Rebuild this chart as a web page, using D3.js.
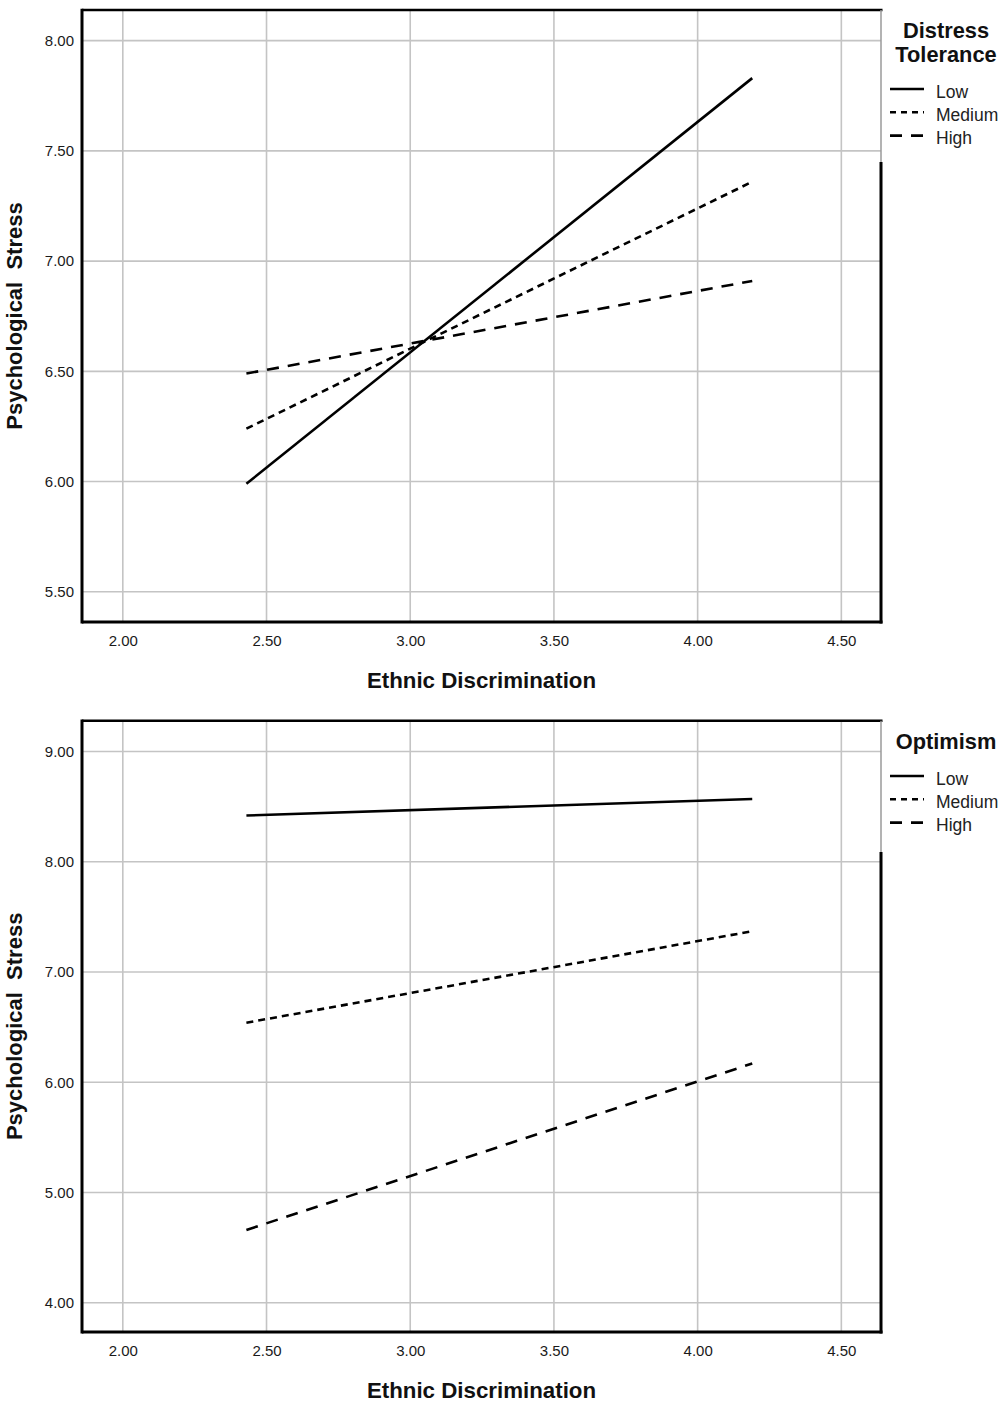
<!DOCTYPE html>
<html>
<head>
<meta charset="utf-8">
<script src="https://cdn.jsdelivr.net/npm/d3@7"></script>
<style>
  html, body { margin: 0; padding: 0; background: #fff; }
  svg { display: block; }
  text { font-family: "Liberation Sans", Arial, sans-serif; }
</style>
</head>
<body>
<svg id="chart" width="1004" height="1406"></svg>
<script>
// ---- Data ----
const xValues = [2.43, 4.19];
const xTicks = [2.0, 2.5, 3.0, 3.5, 4.0, 4.5];
const groups = ["Low", "Medium", "High"];

const dtLow = [5.99, 7.83];
const dtMedium = [6.24, 7.36];
const dtHigh = [6.49, 6.91];
const dtTicks = [5.5, 6.0, 6.5, 7.0, 7.5, 8.0];

const optLow = [8.42, 8.57];
const optMedium = [6.54, 7.37];
const optHigh = [4.66, 6.17];
const optTicks = [4, 5, 6, 7, 8, 9];

const xTitle = "Ethnic Discrimination";
const yTitle = "Psychological  Stress";

// ---- Styles ----
const dashes = { Low: null, Medium: "7,5", High: "12,9" };
const legendDashes = { Low: null, Medium: "6,5", High: "12,9" };

const svg = d3.select("#chart");

function panel(cfg) {
  const { top, bottom, yDomain, yTicks, series, legendTitle, legendTop, frameSplit } = cfg;
  const left = 82, right = 881;
  const x = d3.scaleLinear().domain([1.858, 4.638]).range([left, right]);
  const y = d3.scaleLinear().domain(yDomain).range([bottom, top]);
  const g = svg.append("g");

  // grid
  g.append("g").selectAll("line.h").data(yTicks).join("line")
    .attr("x1", left).attr("x2", right)
    .attr("y1", d => y(d)).attr("y2", d => y(d))
    .attr("stroke", "#c4c4c4").attr("stroke-width", 1.6);
  g.append("g").selectAll("line.v").data(xTicks).join("line")
    .attr("x1", d => x(d)).attr("x2", d => x(d))
    .attr("y1", top).attr("y2", bottom)
    .attr("stroke", "#c4c4c4").attr("stroke-width", 1.6);

  // axes labels
  const ya = g.append("g").attr("transform", `translate(${left},0)`)
    .call(d3.axisLeft(y).tickValues(yTicks).tickFormat(d3.format(".2f")).tickSize(0).tickPadding(8));
  ya.select(".domain").remove();
  ya.selectAll("text").attr("font-size", 15).attr("fill", "#1a1a1a")
    .attr("font-family", "Liberation Sans, Arial, sans-serif");

  const xa = g.append("g").attr("transform", `translate(0,${bottom})`)
    .call(d3.axisBottom(x).tickValues(xTicks).tickFormat(d3.format(".2f")).tickSize(0).tickPadding(13));
  xa.select(".domain").remove();
  xa.selectAll("text").attr("font-size", 15).attr("fill", "#1a1a1a")
    .attr("font-family", "Liberation Sans, Arial, sans-serif");

  // lines
  const line = d3.line().x((d, i) => x(xValues[i])).y(d => y(d));
  groups.forEach((grp, i) => {
    g.append("path").datum(series[i])
      .attr("d", line)
      .attr("fill", "none")
      .attr("stroke", "#000")
      .attr("stroke-width", 2.6)
      .attr("stroke-dasharray", dashes[grp]);
  });

  // frame
  g.append("line").attr("x1", left).attr("x2", right + 1.5).attr("y1", top).attr("y2", top)
    .attr("stroke", "#000").attr("stroke-width", 2.5);
  g.append("line").attr("x1", left).attr("x2", left).attr("y1", top - 1.2).attr("y2", bottom + 1.5)
    .attr("stroke", "#000").attr("stroke-width", 3);
  g.append("line").attr("x1", left).attr("x2", right + 1.5).attr("y1", bottom).attr("y2", bottom)
    .attr("stroke", "#000").attr("stroke-width", 3);
  g.append("line").attr("x1", right).attr("x2", right).attr("y1", top).attr("y2", frameSplit)
    .attr("stroke", "#9a9a9a").attr("stroke-width", 1.5);
  g.append("line").attr("x1", right).attr("x2", right).attr("y1", frameSplit).attr("y2", bottom + 1.5)
    .attr("stroke", "#000").attr("stroke-width", 3);

  // axis titles
  g.append("text").attr("x", (left + right) / 2).attr("y", bottom + 66)
    .attr("text-anchor", "middle").attr("font-size", 22.3).attr("font-weight", "bold")
    .attr("fill", "#111").text(xTitle);
  g.append("text")
    .attr("transform", `translate(22,${(top + bottom) / 2}) rotate(-90)`)
    .attr("text-anchor", "middle").attr("font-size", 22).attr("font-weight", "bold")
    .attr("fill", "#111").attr("xml:space", "preserve").style("white-space", "pre").text(yTitle);

  // legend
  const lg = g.append("g");
  legendTitle.forEach((t, i) => {
    lg.append("text").attr("x", 946).attr("y", legendTop + i * 24)
      .attr("text-anchor", "middle").attr("font-size", 21.8).attr("font-weight", "bold")
      .attr("fill", "#111").text(t);
  });
  const itemTop = legendTop + (legendTitle.length - 1) * 24 + 27;
  groups.forEach((grp, i) => {
    const yy = itemTop + i * 23.3;
    lg.append("line").attr("x1", 890).attr("x2", 924).attr("y1", yy).attr("y2", yy)
      .attr("stroke", "#000").attr("stroke-width", 2.6)
      .attr("stroke-dasharray", legendDashes[grp]);
    lg.append("text").attr("x", 936).attr("y", yy + 8.5)
      .attr("font-size", 17.5).attr("fill", "#222").text(grp);
  });
}

panel({
  top: 10, bottom: 622, yDomain: [5.363, 8.139], yTicks: dtTicks,
  series: [dtLow, dtMedium, dtHigh],
  legendTitle: ["Distress", "Tolerance"], legendTop: 38, frameSplit: 162
});

panel({
  top: 720.7, bottom: 1332, yDomain: [3.734, 9.28], yTicks: optTicks,
  series: [optLow, optMedium, optHigh],
  legendTitle: ["Optimism"], legendTop: 749, frameSplit: 852
});
</script>
</body>
</html>
